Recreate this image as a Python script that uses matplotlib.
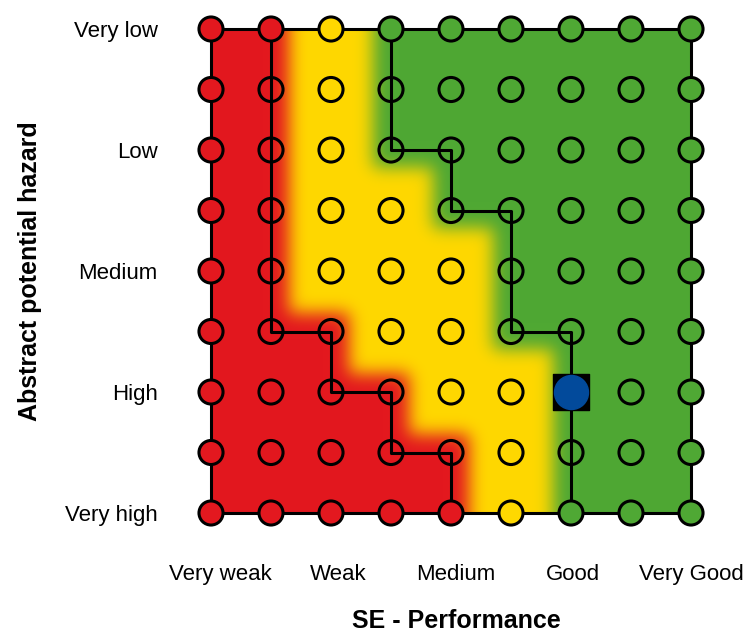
import numpy as np
import matplotlib
matplotlib.use("Agg")
import matplotlib.pyplot as plt

# ---------------- data ----------------
x_labels = ["Very weak", "Weak", "Medium", "Good", "Very Good"]
x_label_pos = [0.15, 2.12, 4.08, 6.03, 8.0]
y_labels = ["Very low", "Low", "Medium", "High", "Very high"]
y_label_pos = [0, 2, 4, 6, 8]
# class per grid point, rows from top (Very low) to bottom (Very high)
# 0 = red, 1 = yellow, 2 = green
grid = [
    [0, 0, 1, 2, 2, 2, 2, 2, 2],
    [0, 0, 1, 2, 2, 2, 2, 2, 2],
    [0, 0, 1, 2, 2, 2, 2, 2, 2],
    [0, 0, 1, 1, 2, 2, 2, 2, 2],
    [0, 0, 1, 1, 1, 2, 2, 2, 2],
    [0, 0, 0, 1, 1, 2, 2, 2, 2],
    [0, 0, 0, 0, 1, 1, 2, 2, 2],
    [0, 0, 0, 0, 0, 1, 2, 2, 2],
    [0, 0, 0, 0, 0, 1, 2, 2, 2],
]
marker_col, marker_row = 6, 6
class_colors = ["#E3181F", "#FFD800", "#4FA834"]
marker_color = "#024A9B"

G = np.array(grid)
nrow, ncol = G.shape
# rightmost red column and leftmost green column per row
red_right = np.array([np.max(np.where(r == 0)[0]) for r in G])
green_left = np.array([np.min(np.where(r == 2)[0]) for r in G])

# ---------------- background ----------------
def hex2rgb(h):
    h = h.lstrip("#")
    return np.array([int(h[i:i + 2], 16) / 255 for i in (0, 2, 4)])

rgbs = [hex2rgb(c) for c in class_colors]
d = 0.3
res = 50
pad = 1.0
xs = np.arange(-pad, ncol - 1 + pad, 1.0 / res) + 0.5 / res
ys = np.arange(-pad, nrow - 1 + pad, 1.0 / res) + 0.5 / res
XX, YY = np.meshgrid(xs, ys)
Xc = np.clip(XX, 0, ncol - 1)
Yc = np.clip(YY, 0, nrow - 1)
jr = np.clip(np.floor(Yc + d).astype(int), 0, nrow - 1)
jg = np.clip(np.ceil(Yc - d).astype(int), 0, nrow - 1)
cls = np.ones(XX.shape, dtype=int)
cls[Xc >= green_left[jg] - d] = 2
cls[Xc <= red_right[jr] + d] = 0
img = np.zeros(XX.shape + (3,))
for k in range(3):
    img[cls == k] = rgbs[k]

sigma = 0.14 * res
kr = int(3 * sigma)
kx = np.arange(-kr, kr + 1)
kern = np.exp(-0.5 * (kx / sigma) ** 2)
kern /= kern.sum()
for c in range(3):
    ch = img[:, :, c]
    ch = np.apply_along_axis(lambda v: np.convolve(np.pad(v, kr, mode="edge"), kern, mode="valid"), 1, ch)
    ch = np.apply_along_axis(lambda v: np.convolve(np.pad(v, kr, mode="edge"), kern, mode="valid"), 0, ch)
    img[:, :, c] = ch
i0 = int(pad * res)
i1 = i0 + int((ncol - 1) * res)
j1 = i0 + int((nrow - 1) * res)
img = np.clip(img[i0:j1, i0:i1], 0, 1)

# ---------------- figure ----------------
W, H = 747, 633
fig = plt.figure(figsize=(W / 100, H / 100), dpi=100)
plt.rcParams["font.family"] = ["Liberation Sans", "DejaVu Sans"]
sx, sy = 60.0, 60.5
x0px, y0px = 211, 29
m = 0.4
left = x0px - m * sx
top = y0px - m * sy
aw = (ncol - 1 + 2 * m) * sx
ah = (nrow - 1 + 2 * m) * sy
ax = fig.add_axes([left / W, 1 - (top + ah) / H, aw / W, ah / H])
ax.set_xlim(-m, ncol - 1 + m)
ax.set_ylim(nrow - 1 + m, -m)
for s in ax.spines.values():
    s.set_visible(False)

ax.imshow(img, extent=(0, ncol - 1, nrow - 1, 0), interpolation="bilinear", zorder=1, aspect="auto")

lw = 2.2
# outer frame
ax.plot([0, ncol - 1, ncol - 1, 0, 0], [0, 0, nrow - 1, nrow - 1, 0], color="black", lw=lw, zorder=2,
        solid_joinstyle="miter")
# red / yellow boundary staircase
rx, ry = [], []
for j in range(nrow - 1):
    rx += [red_right[j], red_right[j]]
    ry += [j, j + 1]
ax.plot(rx, ry, color="black", lw=lw, zorder=2)
# yellow / green boundary staircase
gx, gy = [], []
for j in range(1, nrow):
    gx += [green_left[j], green_left[j]]
    gy += [j - 1, j]
ax.plot(gx, gy, color="black", lw=lw, zorder=2)

# circles
cols_i, rows_j = np.meshgrid(np.arange(ncol), np.arange(nrow))
edge = (cols_i == 0) | (cols_i == ncol - 1) | (rows_j == 0) | (rows_j == nrow - 1)
fc = [class_colors[G[j, i]] for j, i in zip(rows_j[edge], cols_i[edge])]
ax.scatter(cols_i[edge], rows_j[edge], s=300, facecolors=fc, edgecolors="black", linewidths=2.2, zorder=3)
ax.scatter(cols_i[~edge], rows_j[~edge], s=300, facecolors="none", edgecolors="black", linewidths=2.2, zorder=3)

# assessed point marker
ax.scatter([marker_col], [marker_row], s=680, marker="s", color="black", zorder=4)
ax.scatter([marker_col], [marker_row], s=600, marker="o", color=marker_color, zorder=5)

ax.set_xticks(x_label_pos)
ax.set_xticklabels(x_labels, fontsize=16)
ax.set_yticks(y_label_pos)
ax.set_yticklabels(y_labels, fontsize=16)
ax.tick_params(axis="both", length=0)
ax.tick_params(axis="x", pad=19)
ax.tick_params(axis="y", pad=21)

ax.set_xlabel("SE - Performance", fontsize=18, fontweight="bold")
ax.xaxis.set_label_coords((456 - left) / aw, -(621 - (top + ah)) / ah)
ax.xaxis.label.set_va("center")
ax.set_ylabel("Abstract potential hazard", fontsize=18, fontweight="bold")
ax.yaxis.set_label_coords((30 - left) / aw, 1 - (271 - top) / ah)
ax.yaxis.label.set_va("center")

fig.savefig("out.png", dpi=100)
